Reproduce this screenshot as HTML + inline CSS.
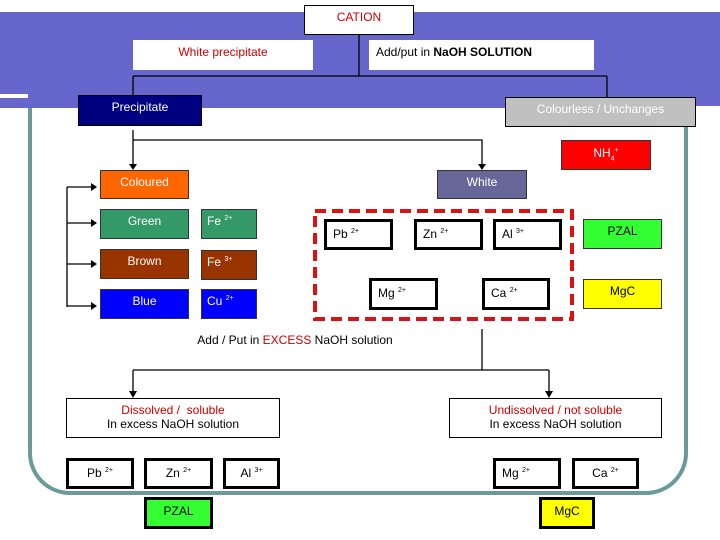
<!DOCTYPE html>
<html><head><meta charset="utf-8"><style>
body{margin:0;width:720px;height:540px;position:relative;background:#fff;overflow:hidden;font-family:"Liberation Sans",Arial,sans-serif;}
.b{position:absolute;box-sizing:border-box;font-size:12px;text-align:center;line-height:1.2;}
sup{font-size:7px;vertical-align:5px;}
.k{border:3px solid #000;background:#fff;text-align:left;padding:5px 0 0 6px;font-size:12px;}
.c{border:1px solid #333;color:#fff;}
</style></head><body>
<div style="position:absolute;left:0;top:12px;width:720px;height:94px;background:#6666cc"></div>
<div style="position:absolute;left:0;top:94px;width:636px;height:4px;background:#fff"></div>
<div style="position:absolute;left:0;top:98px;width:636px;height:10px;background:#6666cc"></div>
<div style="position:absolute;left:28px;top:60px;width:660px;height:435px;box-sizing:border-box;border:4px solid #6a9a9a;border-top:none;border-radius:0 0 42px 42px"></div>
<div style="position:absolute;left:28px;top:12px;width:660px;height:96px;background:#6666cc"></div>
<div style="position:absolute;left:32px;top:108px;width:20px;height:10px;background:#fff"></div>
<svg style="position:absolute;left:0;top:0" width="720" height="540">
<g stroke="#000" stroke-width="1.3" fill="none">
<path d="M359 35V76M133 76H607M133 76V95M607 76V97"/>
<path d="M133 130V140H482V165M133 140V165"/>
<path d="M67 187V307M67 187H92M67 223H92M67 264H92M67 306H92"/>
<path d="M482 329V370M133 370H549M133 370V392M549 370V392"/>
</g>
<g fill="#000">
<path d="M129 164L137 164L133 170Z"/><path d="M478 164L486 164L482 170Z"/>
<path d="M91 183L97 187L91 191Z"/><path d="M91 219L97 223L91 227Z"/><path d="M91 260L97 264L91 268Z"/><path d="M91 302L97 306L91 310Z"/>
<path d="M129 391L137 391L133 398Z"/><path d="M545 391L553 391L549 398Z"/>
</g>
<rect x="315" y="211" width="257" height="108" fill="none" stroke="#dd1111" stroke-width="4" stroke-dasharray="11 6"/>
</svg>
<div class="b" style="left:304px;top:5px;width:110px;height:30px;background:#fff;border:1px solid #000;color:#c00;padding-top:4px">CATION</div>
<div class="b" style="left:133px;top:40px;width:180px;height:30px;background:#fff;color:#c00;padding-top:5px">White precipitate</div>
<div class="b" style="left:369px;top:40px;width:225px;height:30px;background:#fff;text-align:left;padding:5px 0 0 7px">Add/put in <b>NaOH SOLUTION</b></div>
<div class="b c" style="left:78px;top:95px;width:124px;height:31px;background:#000080;border-color:#000;padding-top:4px">Precipitate</div>
<div class="b c" style="left:505px;top:97px;width:191px;height:30px;background:#c0c0c0;border-color:#000;padding-top:4px">Colourless / Unchanges</div>
<div class="b c" style="left:561px;top:140px;width:90px;height:30px;background:#ff0000;padding-top:5px">NH<sub style="font-size:7px">4</sub><sup>+</sup></div>
<div class="b c" style="left:100px;top:170px;width:89px;height:29px;background:#ff6600;padding-top:4px">Coloured</div>
<div class="b c" style="left:437px;top:170px;width:90px;height:29px;background:#666699;padding-top:4px">White</div>
<div class="b c" style="left:100px;top:209px;width:89px;height:30px;background:#339966;padding-top:4px">Green</div>
<div class="b c" style="left:201px;top:209px;width:56px;height:30px;background:#339966;text-align:left;padding:4px 0 0 5px">Fe <sup>2+</sup></div>
<div class="b c" style="left:100px;top:249px;width:89px;height:30px;background:#993300;padding-top:4px">Brown</div>
<div class="b c" style="left:201px;top:250px;width:56px;height:30px;background:#993300;text-align:left;padding:4px 0 0 5px">Fe <sup>3+</sup></div>
<div class="b c" style="left:100px;top:289px;width:89px;height:30px;background:#0000ff;padding-top:4px">Blue</div>
<div class="b c" style="left:201px;top:289px;width:56px;height:30px;background:#0000ff;text-align:left;padding:4px 0 0 5px">Cu <sup>2+</sup></div>
<div class="b k" style="left:324px;top:219px;width:69px;height:31px">Pb <sup>2+</sup></div>
<div class="b k" style="left:414px;top:219px;width:69px;height:31px">Zn <sup>2+</sup></div>
<div class="b k" style="left:493px;top:219px;width:69px;height:31px">Al <sup>3+</sup></div>
<div class="b k" style="left:369px;top:278px;width:69px;height:32px">Mg <sup>2+</sup></div>
<div class="b k" style="left:482px;top:278px;width:68px;height:32px">Ca <sup>2+</sup></div>
<div class="b" style="left:583px;top:219px;width:79px;height:30px;background:#33ff33;border:1px solid #333;padding-top:4px">PZAL</div>
<div class="b" style="left:583px;top:279px;width:79px;height:30px;background:#ffff00;border:1px solid #333;padding-top:4px">MgC</div>
<div class="b" style="left:180px;top:333px;width:230px">Add / Put in <span style="color:#c00">EXCESS</span> NaOH solution</div>
<div class="b" style="left:66px;top:398px;width:214px;height:40px;background:#fff;border:1px solid #000;padding-top:4px"><span style="color:#c00">Dissolved / &nbsp;soluble</span><br>In excess NaOH solution</div>
<div class="b" style="left:449px;top:398px;width:213px;height:40px;background:#fff;border:1px solid #000;padding-top:4px"><span style="color:#c00">Undissolved / not soluble</span><br>In excess NaOH solution</div>
<div class="b k" style="left:66px;top:458px;width:68px;height:31px;text-align:center;padding-left:0">Pb <sup>2+</sup></div>
<div class="b k" style="left:144px;top:458px;width:69px;height:31px;text-align:center;padding-left:0">Zn <sup>2+</sup></div>
<div class="b k" style="left:223px;top:458px;width:57px;height:31px;text-align:center;padding-left:0">Al <sup>3+</sup></div>
<div class="b k" style="left:493px;top:458px;width:68px;height:31px">Mg <sup>2+</sup></div>
<div class="b k" style="left:572px;top:458px;width:67px;height:31px;text-align:center;padding-left:0">Ca <sup>2+</sup></div>
<div class="b" style="left:144px;top:497px;width:69px;height:32px;background:#33ff33;border:3px solid #000;padding-top:4px">PZAL</div>
<div class="b" style="left:539px;top:497px;width:56px;height:32px;background:#ffff00;border:3px solid #000;padding-top:4px">MgC</div>
</body></html>
